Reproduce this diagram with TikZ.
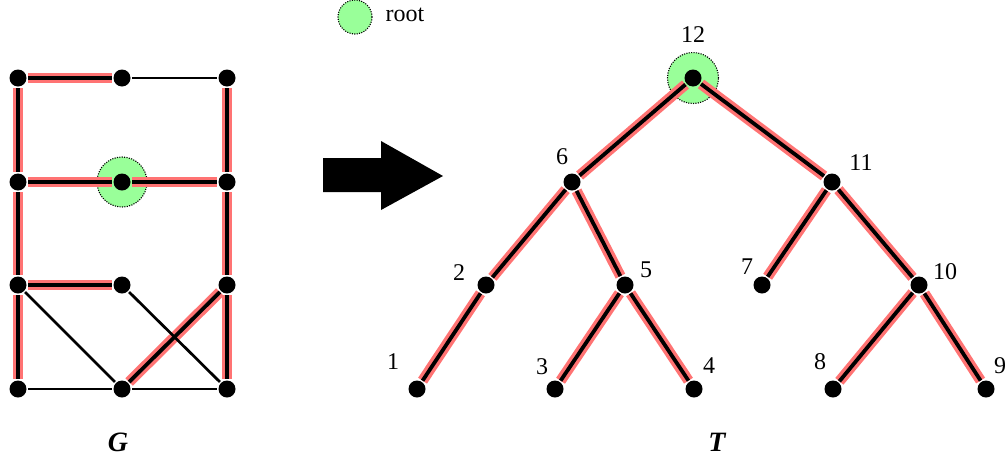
\documentclass[tikz,border=0pt]{standalone}
\usepackage{fontspec}
\setmainfont{Liberation Serif}
\definecolor{hl}{RGB}{255,115,115}
\definecolor{rootgreen}{RGB}{153,255,153}
\pgfdeclarelayer{rootl}
\pgfdeclarelayer{edgel}
\pgfsetlayers{rootl,edgel,main}
\begin{document}
\begin{tikzpicture}[x=1pt,y=-1pt,
  vtx/.style={circle,fill=black,minimum size=17pt,inner sep=0pt,outer sep=1.5pt},
  tedge/.style={draw=hl,line width=3.4pt,double=black,double distance=3.8pt},
  pedge/.style={draw=black,line width=2.7pt},
  rootmark/.style={circle,fill=rootgreen,draw=black,line width=1.1pt,dash pattern=on 1.1pt off 1.3pt,inner sep=0pt},
  lbl/.style={font=\fontsize{24}{24}\selectfont,inner sep=0pt},
  glbl/.style={font=\fontsize{28}{28}\selectfont\bfseries\itshape,inner sep=0pt}]
\useasboundingbox (0,0) rectangle (1008,461);

% ---------- Graph G ----------
\node[vtx] (g11) at (18,78) {};
\node[vtx] (g12) at (122,78) {};
\node[vtx] (g13) at (227,78) {};
\node[vtx] (g21) at (18,182) {};
\node[vtx] (g22) at (122,182) {};
\node[vtx] (g23) at (227,182) {};
\node[vtx] (g31) at (18,285) {};
\node[vtx] (g32) at (122,285) {};
\node[vtx] (g33) at (227,285) {};
\node[vtx] (g41) at (18,389) {};
\node[vtx] (g42) at (122,389) {};
\node[vtx] (g43) at (227,389) {};

% ---------- Tree T ----------
\node[vtx] (t12) at (693,78) {};
\node[vtx] (t6) at (572,182) {};
\node[vtx] (t11) at (832,182) {};
\node[vtx] (t2) at (486,285) {};
\node[vtx] (t5) at (625,285) {};
\node[vtx] (t7) at (762,285) {};
\node[vtx] (t10) at (919,285) {};
\node[vtx] (t1) at (417,389) {};
\node[vtx] (t3) at (555,389) {};
\node[vtx] (t4) at (694,389) {};
\node[vtx] (t8) at (833,389) {};
\node[vtx] (t9) at (986,389) {};

\begin{pgfonlayer}{rootl}
  \node[rootmark,minimum size=50pt] (groot) at (g22) {};
  \node[rootmark,minimum size=51pt] (troot) at (t12) {};
  \node[rootmark,minimum size=34pt] (legroot) at (355,17) {};
\end{pgfonlayer}

\begin{pgfonlayer}{edgel}
  % spanning-tree edges of G
  \foreach \a/\b in {g11/g12,g11/g21,g21/g31,g31/g41,g13/g23,g23/g33,g33/g43,g21/g22,g22/g23,g31/g32,g33/g42}
    \draw[tedge] (\a) -- (\b);
  % other edges of G
  \foreach \a/\b in {g12/g13,g31/g42,g32/g43,g41/g42,g42/g43}
    \draw[pedge] (\a) -- (\b);
  % edges of T
  \foreach \a/\b in {t12/t6,t12/t11,t6/t2,t6/t5,t2/t1,t5/t3,t5/t4,t11/t7,t11/t10,t10/t8,t10/t9}
    \draw[tedge] (\a) -- (\b);
\end{pgfonlayer}

% labels of T
\node[lbl] (l12) at (693,35) {12};
\node[lbl] (l6) at (562,157) {6};
\node[lbl] (l11) at (861,163) {11};
\node[lbl] (l2) at (459,273) {2};
\node[lbl] (l5) at (646,270) {5};
\node[lbl] (l7) at (747,267) {7};
\node[lbl] (l10) at (945,272) {10};
\node[lbl] (l1) at (393,362) {1};
\node[lbl] (l3) at (542,367) {3};
\node[lbl] (l4) at (709,366) {4};
\node[lbl] (l8) at (820,362) {8};
\node[lbl] (l9) at (1000,366) {9};

% legend
\node[lbl] (legtext) at (405,15) {root};

% big arrow
\fill[black] (323,158) -- (381,158) -- (381,141) -- (443,176) -- (381,210) -- (381,192) -- (323,192) -- cycle;

% captions
\node[glbl] (capG) at (118,442) {G};
\node[glbl] (capT) at (717,442) {T};
\end{tikzpicture}
\end{document}
